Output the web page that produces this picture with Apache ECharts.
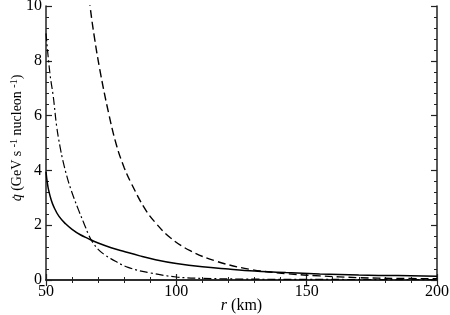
<!DOCTYPE html>
<html><head><meta charset="utf-8">
<script src="https://cdn.jsdelivr.net/npm/echarts@6/dist/echarts.min.js"></script>
<style>html,body{margin:0;padding:0;background:#fff}#c{width:450px;height:315px}</style>
</head><body><div id="c"></div>
<script>
var xTicks = [50, 100, 150, 200];
var yTicks = [0, 2, 4, 6, 8, 10];
var solidR = [50, 50.5, 51, 52, 53, 55, 57.5, 60, 63, 66, 70, 75, 80, 86, 92, 100, 110, 120, 130, 142, 155, 170, 185, 200];
var solidQ = [3.95, 3.55, 3.28, 2.92, 2.67, 2.32, 2.05, 1.85, 1.66, 1.52, 1.35, 1.18, 1.04, 0.88, 0.74, 0.6, 0.48, 0.4, 0.33, 0.27, 0.22, 0.18, 0.16, 0.14];
var dashR = [65, 66.9, 68.5, 70.7, 74, 77.1, 80, 82.6, 87.8, 91.9, 97.6, 105.3, 115.5, 128.3, 142.4, 155, 170, 185, 200];
var dashQ = [11.6, 10, 8.9, 7.65, 6.1, 4.9, 4.1, 3.55, 2.62, 2.1, 1.55, 1.07, 0.68, 0.39, 0.23, 0.15, 0.085, 0.058, 0.045];
var dotR = [50, 51.5, 52.8, 54.1, 55.4, 56.5, 58.5, 60.5, 62.5, 64.5, 66.5, 68, 70, 72.5, 75, 81.5, 90, 100, 110, 130, 160, 200];
var dotQ = [9.0, 7.54, 6.69, 5.6, 4.86, 4.35, 3.62, 3.05, 2.55, 2.08, 1.62, 1.36, 1.12, 0.92, 0.77, 0.46, 0.26, 0.11, 0.06, 0.03, 0.02, 0.015];

function pairs(r, q) { return r.map(function (v, i) { return [v, q[i]]; }); }
var font = "'Liberation Serif', 'Times New Roman', serif";
var axisCommon = {
  type: 'value',
  nameMoveOverlap: false,
  axisLine: { show: true, lineStyle: { color: '#222', width: 1.5 } },
  axisTick: { show: true, inside: true, length: 6, lineStyle: { color: '#222', width: 1.2 } },
  minorTick: { show: true, splitNumber: 5, length: 3, lineStyle: { color: '#222', width: 1 } },
  splitLine: { show: false }
};
function ax(extra) { return Object.assign({}, JSON.parse(JSON.stringify(axisCommon)), extra); }

var chart = echarts.init(document.getElementById('c'), null, { renderer: 'canvas' });
chart.setOption({
  animation: false,
  grid: { left: 46, right: 13, top: 6, bottom: 35, containLabel: false, outerBoundsMode: 'none' },
  xAxis: [
    ax({ min: xTicks[0], max: xTicks[xTicks.length - 1], interval: 50, position: 'bottom',
      axisLabel: { color: '#000', fontFamily: font, fontSize: 16, margin: 4 },
      name: '{i|r} (km)', nameLocation: 'middle', nameGap: 18,
      nameTextStyle: { color: '#000', fontFamily: font, fontSize: 16,
        rich: { i: { fontStyle: 'italic', fontFamily: font, fontSize: 16, color: '#000' } } } }),
    ax({ min: xTicks[0], max: xTicks[xTicks.length - 1], interval: 50, position: 'top',
      axisLabel: { show: false } })
  ],
  yAxis: [
    ax({ min: yTicks[0], max: yTicks[yTicks.length - 1], interval: 2, position: 'left',
      axisLabel: { color: '#000', fontFamily: font, fontSize: 16, margin: 4 },
      name: '{i|q̇} (GeV s {s|-1} nucleon {s|-1})', nameLocation: 'middle', nameGap: 20,
      nameTextStyle: { color: '#000', fontFamily: font, fontSize: 14, lineHeight: 17, padding: [0, 0, 0, 10],
        rich: {
          i: { fontStyle: 'italic', fontFamily: font, fontSize: 14, color: '#000', lineHeight: 17 },
          s: { fontFamily: font, fontSize: 10, color: '#000', verticalAlign: 'top', lineHeight: 17 }
        } } }),
    ax({ min: yTicks[0], max: yTicks[yTicks.length - 1], interval: 2, position: 'right',
      axisLabel: { show: false } })
  ],
  series: [
    { type: 'line', data: pairs(solidR, solidQ), showSymbol: false, smooth: 0.4, clip: true,
      lineStyle: { color: '#000', width: 1.5, type: 'solid' } },
    { type: 'line', data: pairs(dashR, dashQ), showSymbol: false, smooth: 0.4, clip: true,
      lineStyle: { color: '#000', width: 1.4, type: [8, 4] } },
    { type: 'line', data: pairs(dotR, dotQ), showSymbol: false, smooth: 0.4, clip: true,
      lineStyle: { color: '#000', width: 1.2, type: [8, 3, 2, 3] } }
  ]
});
</script></body></html>
